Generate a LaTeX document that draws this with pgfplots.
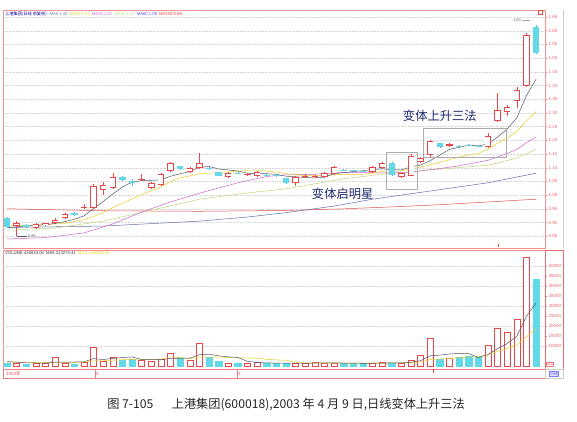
\documentclass[border=0pt]{standalone}
\usepackage{pgfplots}
\pgfplotsset{compat=1.18}
\usepackage{pgfplotstable}
\usepackage{fontspec}
\setmainfont{Liberation Sans}
\newfontfamily\cjk{Noto Sans CJK SC}

\definecolor{kred}{HTML}{E8474A}
\definecolor{kcyan}{HTML}{62D8E8}
\definecolor{ma5}{HTML}{555566}
\definecolor{ma10}{HTML}{E8CC20}
\definecolor{ma20}{HTML}{D060C8}
\definecolor{ma30}{HTML}{C0D478}
\definecolor{ma60}{HTML}{6070A8}
\definecolor{ma120}{HTML}{E05050}
\definecolor{note}{HTML}{1E2A6E}

% up candles: x, body low/high, low, high, volume (/10)
\pgfplotstableread{
x lo hi l h v
1 0.887 0.898 0.850 0.905 1500
3 0.880 0.895 0.878 0.900 1500
4 0.891 0.898 0.888 0.900 1500
5 0.898 0.909 0.896 0.916 4500
6 0.916 0.931 0.914 0.933 1500
8 0.953 0.957 0.948 0.966 2000
9 0.953 1.033 0.950 1.040 9500
10 1.019 1.037 1.000 1.048 2200
11 1.026 1.066 1.022 1.080 4500
14 1.055 1.059 1.053 1.077 3000
15 1.026 1.044 1.022 1.048 2500
16 1.037 1.077 1.035 1.080 3500
17 1.088 1.117 1.085 1.120 6500
19 1.084 1.099 1.082 1.103 3000
20 1.099 1.117 1.097 1.154 11500
23 1.066 1.080 1.062 1.084 1500
25 1.074 1.078 1.071 1.081 1500
26 1.069 1.084 1.066 1.088 2000
30 1.044 1.066 1.035 1.070 1500
31 1.066 1.070 1.062 1.078 1300
32 1.066 1.069 1.062 1.075 2000
33 1.066 1.081 1.064 1.084 1300
34 1.077 1.103 1.075 1.106 1500
38 1.084 1.103 1.082 1.106 1500
39 1.099 1.117 1.097 1.120 2000
41 1.066 1.080 1.062 1.082 1300
42 1.070 1.143 1.068 1.150 3000
43 1.121 1.135 1.118 1.140 5500
44 1.146 1.197 1.140 1.200 14000
46 1.181 1.185 1.176 1.190 4000
50 1.176 1.216 1.172 1.227 10500
51 1.270 1.310 1.265 1.373 19000
52 1.303 1.321 1.290 1.330 17000
53 1.343 1.384 1.318 1.395 23500
54 1.398 1.584 1.395 1.590 54500
}\up

% down candles
\pgfplotstableread{
x lo hi l h v
0 0.884 0.916 0.880 0.920 1500
2 0.884 0.891 0.880 0.893 1000
7 0.927 0.935 0.925 0.937 1000
12 1.055 1.066 1.053 1.068 3000
13 1.046 1.050 1.035 1.060 3500
18 1.095 1.106 1.093 1.108 4000
21 1.095 1.099 1.093 1.101 4500
22 1.070 1.084 1.068 1.086 2500
24 1.078 1.082 1.076 1.084 1500
27 1.072 1.075 1.070 1.077 1200
28 1.068 1.072 1.066 1.074 1200
29 1.044 1.062 1.042 1.064 1500
35 1.089 1.092 1.087 1.094 1400
36 1.087 1.090 1.085 1.092 1300
37 1.085 1.088 1.083 1.090 1200
40 1.073 1.117 1.070 1.120 1600
45 1.175 1.190 1.173 1.192 3500
47 1.178 1.181 1.176 1.183 4500
48 1.181 1.184 1.179 1.186 5000
49 1.177 1.180 1.175 1.182 4500
55 1.518 1.613 1.515 1.620 43500
}\down

\pgfplotstableread{
x y
0 0.880
1 0.885
2 0.887
3 0.890
4 0.892
5 0.897
6 0.903
7 0.912
8 0.924
9 0.951
10 0.977
11 1.004
12 1.030
13 1.047
14 1.053
15 1.054
16 1.056
17 1.069
18 1.078
19 1.086
20 1.101
21 1.105
22 1.095
23 1.092
24 1.088
25 1.080
26 1.078
27 1.078
28 1.076
29 1.069
30 1.067
31 1.064
32 1.063
33 1.066
34 1.078
35 1.082
36 1.086
37 1.089
38 1.093
39 1.096
40 1.093
41 1.092
42 1.103
43 1.110
44 1.126
45 1.146
46 1.167
47 1.174
48 1.183
49 1.179
50 1.187
51 1.212
52 1.241
53 1.282
54 1.363
55 1.423
}\maA

\pgfplotstableread{
x y
0 0.890
3 0.890
6 0.897
8 0.910
9 0.922
10 0.937
11 0.954
12 0.971
13 0.986
14 1.002
15 1.016
16 1.030
17 1.049
18 1.063
19 1.070
20 1.078
21 1.080
22 1.082
23 1.085
24 1.087
25 1.091
26 1.091
27 1.087
28 1.084
29 1.079
30 1.074
31 1.071
32 1.071
33 1.071
34 1.074
35 1.075
36 1.075
37 1.076
38 1.080
39 1.087
40 1.088
41 1.089
42 1.096
43 1.102
44 1.111
45 1.120
46 1.129
47 1.139
48 1.146
49 1.152
50 1.167
51 1.190
52 1.208
53 1.232
54 1.271
55 1.305
}\maB

\pgfplotstableread{
x y
0 0.840
4 0.845
8 0.862
11 0.895
14 0.938
17 0.975
19 0.996
20 1.007
22 1.026
24 1.045
25 1.053
27 1.068
29 1.074
32 1.076
35 1.083
37 1.082
40 1.081
42 1.084
45 1.097
47 1.107
50 1.127
52 1.152
53 1.167
54 1.191
55 1.212
}\maC

\pgfplotstableread{
x y
0 0.872
5 0.880
10 0.905
15 0.945
20 0.985
25 1.008
29 1.023
32 1.041
35 1.060
40 1.080
45 1.095
50 1.109
53 1.135
55 1.167
}\maD

\pgfplotstableread{
x y
0 0.882
10 0.887
20 0.905
25 0.920
29 0.936
34 0.960
38 0.985
44 1.015
50 1.045
55 1.080
}\maE

\pgfplotstableread{
x y
0 0.950
10 0.943
20 0.941
29 0.944
35 0.950
40 0.957
45 0.965
50 0.975
55 0.985
}\maF

% volume moving averages
\pgfplotstableread{
x a b
0 2200 2000
1 1900 1950
2 1600 1900
3 1500 1850
4 1400 1800
5 2000 1820
6 2000 1850
7 2000 1870
8 2100 1900
9 3700 2550
10 3240 2620
11 3840 2920
12 4240 3120
13 4540 3320
14 3240 3470
15 3300 3270
16 3100 3470
17 3800 4020
18 3900 4220
19 3900 3570
20 5700 4500
21 5900 4500
22 5100 4450
23 4600 4250
24 4300 4100
25 2300 4000
26 1800 3850
27 1540 3320
28 1480 3040
29 1480 2890
30 1480 1890
31 1340 1570
32 1500 1520
33 1520 1500
34 1520 1500
35 1500 1490
36 1500 1420
37 1340 1420
38 1380 1450
39 1480 1500
40 1520 1510
41 1520 1510
42 1880 1610
43 2680 2030
44 5080 3280
45 5460 3490
46 6000 3760
47 6300 4090
48 6200 4440
49 4300 4690
50 5700 5580
51 8700 7350
52 11200 8750
53 14900 10550
54 24900 14600
55 31500 18600
}\vma

\begin{document}
\begin{tikzpicture}
\path[use as bounding box] (0pt,0pt) rectangle (577pt,-421pt);

% ---------- price pane ----------
\begin{axis}[
  at={(3pt,-10pt)}, anchor=north west,
  scale only axis, width=542pt, height=238pt,
  xmin=-0.42, xmax=55.93, ymin=0.807, ymax=1.6755,
  xtick=\empty,
  ytick={0.85,0.90,0.95,1.00,1.05,1.10,1.15,1.20,1.25,1.30,1.35,1.40,1.45,1.50,1.55,1.60,1.65},
  ytick pos=right, yticklabel pos=right,
  yticklabel style={font=\fontsize{4.5}{5}\selectfont, text=kred!85, inner xsep=1.5pt},
  /pgf/number format/.cd, fixed, fixed zerofill, precision=2, assume math mode=true, /pgfplots/.cd,
  ymajorgrids, grid style={gray!30, densely dotted, line width=0.3pt},
  axis line style={kred!60, line width=0.5pt},
  tick style={kred!70, line width=0.4pt},
  major tick length=2pt, tick align=outside,
]
% moving averages
\addplot[ma120, line width=0.5pt] table[x=x,y=y]{\maF};
\addplot[ma60, line width=0.5pt] table[x=x,y=y]{\maE};
\addplot[ma30, line width=0.5pt] table[x=x,y=y]{\maD};
\addplot[ma20, line width=0.5pt] table[x=x,y=y]{\maC};
\addplot[ma10, line width=0.5pt] table[x=x,y=y]{\maB};
\addplot[ma5, line width=0.5pt] table[x=x,y=y]{\maA};

% down candles: wick and filled body
\addplot[kcyan!80!blue, line width=0.5pt, mark=none,
  quiver={u=0, v=\thisrow{h}-\thisrow{l}}] table[x=x,y=l]{\down};
\addplot[kcyan, line width=6.4pt, mark=none,
  quiver={u=0, v=\thisrow{hi}-\thisrow{lo}}] table[x=x,y=lo]{\down};

% up candles: wick, red body, white inside
\addplot[kred, line width=0.5pt, mark=none,
  quiver={u=0, v=\thisrow{h}-\thisrow{l}}] table[x=x,y=l]{\up};
\addplot[kred, line width=6.4pt, mark=none,
  quiver={u=0, v=\thisrow{hi}-\thisrow{lo}}] table[x=x,y=lo]{\up};
\addplot[white, line width=5.0pt, mark=none,
  quiver={u=0, v={max(\thisrow{hi}-\thisrow{lo}-0.0052,0)}}]
  table[x=x,y expr=\thisrow{lo}+0.0026]{\up};

% pattern boxes and notes
\draw[gray!65, line width=0.45pt] (axis cs:39.4,1.157) rectangle (axis cs:42.6,1.022);
\draw[gray!65, line width=0.45pt] (axis cs:43.24,1.245) rectangle (axis cs:51.87,1.139);
\node[text=note, font=\cjk\fontsize{12.3}{13}\selectfont] at (axis cs:45.0,1.289) {变体上升三法};
\node[text=note, font=\cjk\fontsize{12.3}{13}\selectfont] at (axis cs:34.9,1.004) {变体启明星};

% extremes
\draw[gray!70, line width=0.3pt] (axis cs:53.5,1.639) -- (axis cs:54.4,1.639);
\node[anchor=east, inner sep=0.5pt, font=\fontsize{4}{4.5}\selectfont, text=gray!80!black] at (axis cs:53.5,1.639) {1.65};
\draw[gray!70!black, line width=0.3pt] (axis cs:1,0.850) -- (axis cs:2.1,0.850);
\node[anchor=west, inner sep=0.5pt, font=\fontsize{4}{4.5}\selectfont, text=gray!80!black] at (axis cs:2.1,0.850) {0.85};
\end{axis}

% ---------- volume pane ----------
\begin{axis}[
  at={(3pt,-250pt)}, anchor=north west,
  scale only axis, width=542pt, height=119pt,
  xmin=-0.42, xmax=55.93, ymin=-1500, ymax=58000,
  xtick=\empty,
  ytick={10000,15000,20000,25000,30000,35000,40000,45000,50000},
  scaled y ticks=false,
  ytick pos=right, yticklabel pos=right,
  yticklabel style={font=\fontsize{4.5}{5}\selectfont, text=kred!85, inner xsep=1.5pt},
  /pgf/number format/.cd, fixed, 1000 sep={}, assume math mode=true, /pgfplots/.cd,
  extra y ticks={10000,20000,30000,40000,50000}, extra y tick labels={},
  extra y tick style={ymajorgrids, major tick length=0pt},
  grid style={gray!30, densely dotted, line width=0.3pt},
  axis line style={kred!60, line width=0.5pt},
  tick style={kred!70, line width=0.4pt},
  major tick length=2pt, tick align=outside,
]
\addplot[ybar, bar width=6.4pt, bar shift=0pt, draw=kcyan, fill=kcyan] table[x=x,y=v]{\down};
\addplot[ybar, bar width=6.0pt, bar shift=0pt, draw=kred, fill=white, line width=0.5pt] table[x=x,y=v]{\up};
\addplot[ma10, line width=0.5pt] table[x=x,y=b]{\vma};
\addplot[ma5, line width=0.5pt] table[x=x,y=a]{\vma};
\end{axis}

% ---------- frames and strip texts ----------
\draw[gray!40, line width=0.4pt] (563pt,-10pt) -- (563pt,-248pt);
\draw[kred!80, line width=0.6pt] (545pt,-250pt) rectangle (563pt,-369pt);
\draw[kred!70, line width=0.5pt] (3pt,-369pt) rectangle (545pt,-378pt);
\draw[gray!40, line width=0.4pt] (545pt,-369pt) rectangle (563pt,-378pt);
\node[anchor=west, inner sep=0pt, font=\cjk\fontsize{4.5}{5}\selectfont, text=kred] at (6pt,-373.5pt) {2003年};
\draw[kred!70, line width=0.4pt] (95pt,-369pt) -- (95pt,-378pt);
\node[anchor=west, inner sep=0pt, font=\fontsize{4.5}{5}\selectfont, text=kred] at (96pt,-373.5pt) {2};
\draw[kred!70, line width=0.4pt] (237pt,-369pt) -- (237pt,-378pt);
\node[anchor=west, inner sep=0pt, font=\fontsize{4.5}{5}\selectfont, text=kred] at (238pt,-373.5pt) {3};
\draw[kred, line width=0.6pt] (433pt,-369pt) -- (433pt,-373pt);
\node[draw=blue!50, fill=blue!8, inner sep=0.6pt, font=\cjk\fontsize{4}{4.5}\selectfont, text=blue!70] at (554pt,-373.5pt) {日线};
\node[draw=kred!70, inner sep=0.5pt, font=\fontsize{3.5}{4}\selectfont, text=kred] at (550pt,-364pt) {X10};
\draw[kred, line width=0.4pt] (538pt,-10pt) rectangle (542pt,-14pt);
\draw[kred, line width=0.6pt] (498pt,-244pt) -- (498pt,-247pt);

% pane headers
\node[anchor=west, inner sep=0pt, font=\fontsize{4.2}{5}\selectfont] at (5pt,-14.5pt)
  {\textcolor{blue!60!black}{\cjk 上港集团(日线 前复权):} \textcolor{ma60}{MA5 1.42}\enspace
   \textcolor{ma10}{MA10 1.31}\enspace \textcolor{ma20}{MA20 1.21}\enspace
   \textcolor{ma30}{MA30 1.17}\enspace \textcolor{blue!70}{MA60 1.08}\enspace
   \textcolor{red!80}{MA120 0.98}};
\node[anchor=west, inner sep=0pt, font=\fontsize{4.2}{5}\selectfont] at (5pt,-253.5pt)
  {\textcolor{black!80}{VOLUME 430834.00\enspace MA5 313275.41}\enspace \textcolor{ma10}{MA10 186000.00}};

% caption
\node[font=\cjk\fontsize{12.2}{14}\selectfont, text=black!85] at (286pt,-405pt)
  {图 7-105\quad\enspace 上港集团(600018),2003 年 4 月 9 日,日线变体上升三法};
\end{tikzpicture}
\end{document}
